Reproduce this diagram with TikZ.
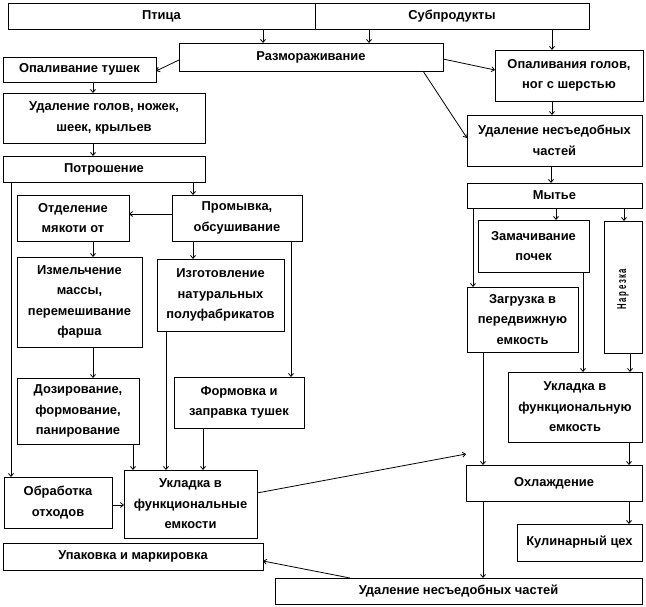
\documentclass[tikz,border=0pt]{standalone}
\usepackage{fontspec}
\setmainfont{Liberation Sans}
\usetikzlibrary{arrows.meta}
\newcommand\mybox[6]{\node[box,minimum width={#4pt-#2pt},minimum height={#5pt-#3pt}] (#1) at ({(#2+#4)/2},{(#3+#5)/2}) {#6};}
\newcommand\nl[1]{\scalebox{0.6}[1]{#1}\hspace{1.6pt}}
\begin{document}
\begin{tikzpicture}[x=1pt,y=-1pt,
  box/.style={draw,line width=0.8pt,inner sep=0pt,outer sep=0pt,align=center,
    font=\fontsize{12.9}{20.5}\selectfont\bfseries},
  arr/.style={line width=0.8pt,-{Straight Barb[length=3pt,width=5pt]}},
  ln/.style={line width=0.8pt}]
\useasboundingbox (0,0) rectangle (646,607);
% boxes
\mybox{pt}{8}{3}{315}{29}{Птица}
\mybox{sub}{315}{3}{589}{29}{Субпродукты}
\mybox{raz}{179}{43}{443}{71}{Размораживание}
\mybox{opt}{3}{57}{156}{82}{Опаливание тушек}
\mybox{udg}{3}{93}{205}{143}{Удаление голов, ножек,\\шеек, крыльев}
\mybox{opg}{495}{50}{643}{101}{Опаливания голов,\\ног с шерстью}
\mybox{udr}{467}{115}{642}{166}{Удаление несъедобных\\частей}
\mybox{potr}{3}{156}{205}{182}{Потрошение}
\mybox{otd}{17}{195}{129}{241}{Отделение\\мякоти от}
\mybox{prom}{172}{195}{302}{241}{Промывка,\\обсушивание}
\mybox{izm}{17}{257}{142}{347}{Измельчение\\массы,\\перемешивание\\фарша}
\mybox{izg}{157}{259}{284}{331}{Изготовление\\натуральных\\полуфабрикатов}
\mybox{myt}{467}{183}{642}{208}{Мытье}
\mybox{zam}{478}{220}{589}{272}{Замачивание\\почек}
\mybox{nar}{604}{221}{642}{353}{}
\node[rotate=90,inner sep=0pt,font=\fontsize{12.9}{14}\selectfont\bfseries] (nartxt) at ([yshift=-2pt]nar.center) {\nl{Н}\nl{а}\nl{р}\nl{е}\nl{з}\nl{к}\scalebox{0.6}[1]{а}};
\mybox{zag}{467}{287}{578}{352}{Загрузка в\\передвижную\\емкость}
\mybox{doz}{17}{378}{139}{444}{Дозирование,\\формование,\\панирование}
\mybox{form}{174}{377}{304}{428}{Формовка и\\заправка тушек}
\mybox{ukr}{508}{372}{642}{442}{Укладка в\\функциональную\\емкость}
\mybox{obr}{4}{477}{112}{528}{Обработка\\отходов}
\mybox{ukl}{124}{470}{257}{538}{Укладка в\\функциональные\\емкости}
\mybox{ohl}{466}{465}{642}{501}{Охлаждение}
\mybox{kul}{517}{524}{642}{561}{Кулинарный цех}
\mybox{upak}{3}{543}{263}{570}{Упаковка и маркировка}
\mybox{udb}{275}{578}{642}{604}{Удаление несъедобных частей}
\coordinate (fe) at (466,454);
% connectors
\draw[arr] (pt.south -| 263,0) -- (raz.north -| 263,0);
\draw[arr] (sub.south -| 369,0) -- (raz.north -| 369,0);
\draw[arr] (sub.south -| 552,0) -- (opg.north -| 552,0);
\draw[arr] (raz.west |- 0,60) -- (opt.east |- 0,71);
\draw[arr] (raz.east |- 0,59) -- (opg.west |- 0,70);
\draw[arr] (raz.south -| 423,0) -- (udr.west |- 0,138);
\draw[arr] (opt.south -| 93,0) -- (udg.north -| 93,0);
\draw[arr] (udg.south -| 93,0) -- (potr.north -| 93,0);
\draw[arr] (opg.south -| 552,0) -- (udr.north -| 552,0);
\draw[arr] (udr.south -| 551,0) -- (myt.north -| 551,0);
\draw[arr] (potr.south -| 11,0) -- (obr.north -| 11,0);
\draw[arr] (potr.south -| 193,0) -- (prom.north -| 193,0);
\draw[arr] (prom.west |- 0,214) -- (otd.east |- 0,214);
\draw[arr] (otd.south -| 93,0) -- (izm.north -| 93,0);
\draw[arr] (prom.south -| 193,0) -- (izg.north -| 193,0);
\draw[arr] (prom.south -| 291,0) -- (form.north -| 291,0);
\draw[arr] (izm.south -| 93,0) -- (doz.north -| 93,0);
\draw[arr] (doz.south -| 133,0) -- (ukl.north -| 133,0);
\draw[arr] (izg.south -| 166,0) -- (ukl.north -| 166,0);
\draw[arr] (form.south -| 203,0) -- (ukl.north -| 203,0);
\draw[arr] (obr.east |- 0,505) -- (ukl.west |- 0,505);
\draw[arr] (ukl.east |- 0,493) -- (fe);
\draw[arr] (myt.south -| 473,0) -- (zag.north -| 473,0);
\draw[arr] (myt.south -| 556,0) -- (zam.north -| 556,0);
\draw[arr] (myt.south -| 624,0) -- (nar.north -| 624,0);
\draw[arr] (zam.south -| 583,0) -- (ukr.north -| 583,0);
\draw[arr] (nar.south -| 630,0) -- (ukr.north -| 630,0);
\draw[arr] (zag.south -| 483,0) -- (ohl.north -| 483,0);
\draw[arr] (ukr.south -| 629,0) -- (ohl.north -| 629,0);
\draw[arr] (ohl.south -| 629,0) -- (kul.north -| 629,0);
\draw[arr] (ohl.south -| 483,0) -- (udb.north -| 483,0);
\draw[arr] (udb.north -| 350,0) -- (upak.east |- 0,561);
\end{tikzpicture}
\end{document}
